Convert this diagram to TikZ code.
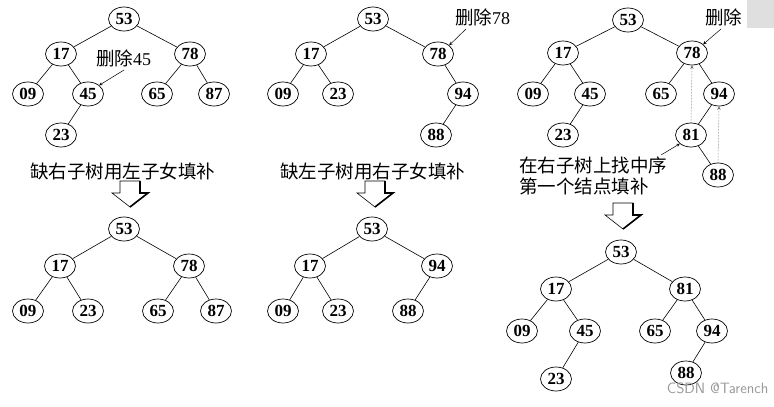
\documentclass[tikz,border=0pt]{standalone}
\usepackage{fontspec}
\setmainfont{Liberation Serif}
\newfontfamily\cjk{Noto Sans CJK SC}
\usetikzlibrary{shapes.geometric}
\begin{document}
\begin{tikzpicture}[x=1pt,y=-1pt,
  nd/.style={ellipse,draw,line width=0.7pt,minimum width=31pt,minimum height=24pt,inner sep=0pt,font=\fontsize{17}{17}\selectfont\bfseries},
  ed/.style={line width=0.6pt},
  lab/.style={font=\cjk\fontsize{18.5}{20}\selectfont,anchor=west,inner sep=0pt},
  pt/.style={-stealth,line width=0.5pt},
  dt/.style={-stealth,densely dotted,line width=0.5pt,gray!70!black}]
\useasboundingbox (0,0) rectangle (774,407);
\fill[white] (0,0) rectangle (774,407);
\fill[gray!25] (747,0) rectangle (774,28);
\newcommand{\blockarrow}[2]{%
  \draw[line width=0.6pt] (#1-10,#2-12) -- (#1+10,#2-12) -- (#1+10,#2) -- (#1+18,#2) -- (#1,#2+14) -- (#1-18,#2) -- (#1-10,#2) -- cycle;
  \draw[line width=1.6pt] (#1+10,#2-12) -- (#1+10,#2) -- (#1+18,#2) -- (#1,#2+14);}
\newcommand{\dg}[1]{{\rmfamily\fontsize{18}{18}\selectfont #1}}
% panel 1 top
\node[nd] (a53) at (124,19) {53};
\node[nd] (a17) at (61,54) {17};
\node[nd] (a78) at (190,54) {78};
\node[nd] (a09) at (28,94) {09};
\node[nd] (a45) at (88,94) {45};
\node[nd] (a65) at (157,94) {65};
\node[nd] (a87) at (214,94) {87};
\node[nd] (a23) at (61,135) {23};
\draw[ed] (a53)--(a17) (a53)--(a78) (a17)--(a09) (a17)--(a45) (a78)--(a65) (a78)--(a87) (a45)--(a23);
\node[lab] (l1) at (96,58) {删除\dg{45}};
\draw[pt] (124,70) -- (a45.north east);
\node[lab] (t1) at (30,171) {缺右子树用左子女填补};
\blockarrow{130}{193}
% panel 1 bottom
\node[nd] (b53) at (124,229) {53};
\node[nd] (b17) at (60,266) {17};
\node[nd] (b78) at (189,266) {78};
\node[nd] (b09) at (28,311) {09};
\node[nd] (b23) at (88,311) {23};
\node[nd] (b65) at (158,311) {65};
\node[nd] (b87) at (216,311) {87};
\draw[ed] (b53)--(b17) (b53)--(b78) (b17)--(b09) (b17)--(b23) (b78)--(b65) (b78)--(b87);
% panel 2 top
\node[nd] (c53) at (373,19) {53};
\node[nd] (c17) at (311,54) {17};
\node[nd] (c78) at (438,54) {78};
\node[nd] (c09) at (283,94) {09};
\node[nd] (c23) at (338,94) {23};
\node[nd] (c94) at (463,94) {94};
\node[nd] (c88) at (436,135) {88};
\draw[ed] (c53)--(c17) (c53)--(c78) (c17)--(c09) (c17)--(c23) (c78)--(c94) (c94)--(c88);
\node[lab] (l2) at (455,17) {删除\dg{78}};
\draw[pt] (466,29) -- (c78.north east);
\node[lab] (t2) at (280,171) {缺左子树用右子女填补};
\blockarrow{375}{193}
% panel 2 bottom
\node[nd] (d53) at (372,229) {53};
\node[nd] (d17) at (310,266) {17};
\node[nd] (d94) at (437,266) {94};
\node[nd] (d09) at (283,311) {09};
\node[nd] (d23) at (338,311) {23};
\node[nd] (d88) at (408,311) {88};
\draw[ed] (d53)--(d17) (d53)--(d94) (d17)--(d09) (d17)--(d23) (d94)--(d88);
% panel 3 top
\node[nd] (e53) at (628,20) {53};
\node[nd] (e17) at (563,53) {17};
\node[nd] (e78) at (692,53) {78};
\node[nd] (e09) at (533,94) {09};
\node[nd] (e45) at (590,94) {45};
\node[nd] (e65) at (661,94) {65};
\node[nd] (e94) at (719,94) {94};
\node[nd] (e23) at (563,135) {23};
\node[nd] (e81) at (691,135) {81};
\node[nd] (e88) at (718,175) {88};
\draw[ed] (e53)--(e17) (e53)--(e78) (e17)--(e09) (e17)--(e45) (e45)--(e23) (e78)--(e65) (e78)--(e94) (e94)--(e81) (e81)--(e88);
\node[lab] (l3) at (705,17) {删除};
\draw[pt] (721,29) -- (e78.north east);
\draw[dt] (e81.north) -- (e78.south);
\draw[dt] (e88.north) -- (e94.south);
\coordinate (p3) at (661,155);
\draw[pt] (p3) -- (e81.south west);
\node[lab] (t3) at (519,165) {在右子树上找中序};
\node[lab] (t3b) at (519,186) {第一个结点填补};
\blockarrow{623}{215}
% panel 3 bottom
\node[nd] (f53) at (621,252) {53};
\node[nd] (f17) at (556,289) {17};
\node[nd] (f81) at (685,289) {81};
\node[nd] (f09) at (522,331) {09};
\node[nd] (f45) at (585,331) {45};
\node[nd] (f65) at (655,331) {65};
\node[nd] (f94) at (712,331) {94};
\node[nd] (f23) at (556,379) {23};
\node[nd] (f88) at (686,373) {88};
\draw[ed] (f53)--(f17) (f53)--(f81) (f17)--(f09) (f17)--(f45) (f45)--(f23) (f81)--(f65) (f81)--(f94) (f94)--(f88);
\node[font=\fontsize{15}{15}\selectfont\sffamily,text=gray!80,anchor=east] (wm) at (772,388) {CSDN @Tarench};
\end{tikzpicture}
\end{document}
